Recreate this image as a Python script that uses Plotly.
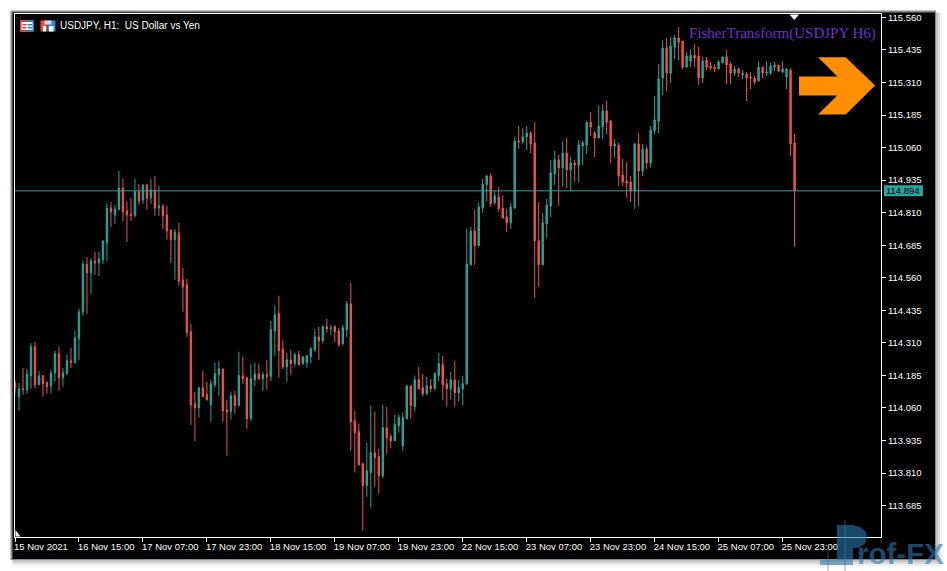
import plotly.graph_objects as go

high = [
114.168,114.156,114.213,114.210,114.309,114.314,114.203,114.184,114.164,114.207,
114.280,114.295,114.213,114.264,114.291,114.356,114.441,114.627,114.640,114.636,
114.659,114.659,114.702,114.847,114.851,114.840,114.970,114.940,114.851,114.867,
114.940,114.920,114.917,114.917,114.940,114.951,114.913,114.844,114.836,114.744,
114.748,114.771,114.598,114.556,114.383,114.122,114.138,114.203,114.161,114.168,
114.234,114.241,114.210,114.092,114.122,114.126,114.276,114.257,114.180,114.230,
114.234,114.230,114.199,114.245,114.395,114.452,114.491,114.322,114.272,114.283,
114.272,114.280,114.260,114.264,114.295,114.364,114.372,114.379,114.402,114.379,
114.379,114.368,114.379,114.471,114.541,114.049,114.000,113.850,113.927,114.069,
114.046,113.904,114.072,114.065,113.961,114.034,114.034,114.042,114.145,114.145,
114.184,114.218,114.191,114.180,114.172,114.199,114.272,114.260,114.172,114.199,
114.241,114.168,114.184,114.748,114.755,114.821,114.848,114.940,114.955,114.963,
114.894,114.909,114.874,114.825,114.848,115.101,115.143,115.135,115.143,115.124,
115.158,114.851,114.809,114.863,115.013,115.047,115.032,115.085,115.097,115.024,
115.013,115.089,115.085,115.158,115.197,115.124,115.220,115.227,115.239,115.166,
115.093,115.078,115.016,115.005,114.951,115.078,115.116,115.074,115.066,115.143,
115.258,115.381,115.473,115.481,115.484,115.492,115.523,115.469,115.427,115.438,
115.458,115.446,115.408,115.408,115.389,115.381,115.396,115.408,115.435,115.389,
115.373,115.366,115.358,115.350,115.350,115.335,115.392,115.369,115.392,115.385,
115.389,115.377,115.392,115.366,115.366,115.112]

low = [
114.111,114.049,114.111,114.115,114.134,114.134,114.149,114.104,114.116,114.115,
114.161,114.126,114.141,114.191,114.214,114.234,114.245,114.414,114.422,114.498,
114.571,114.567,114.613,114.625,114.755,114.767,114.821,114.778,114.698,114.778,
114.794,114.840,114.844,114.821,114.844,114.798,114.798,114.748,114.706,114.617,
114.552,114.529,114.429,114.333,113.996,113.934,114.023,114.103,114.088,114.007,
114.138,114.107,114.007,113.877,114.015,114.038,114.069,114.153,113.980,114.011,
114.145,114.168,114.126,114.130,114.164,114.260,114.176,114.210,114.161,114.188,
114.218,114.226,114.226,114.214,114.230,114.276,114.245,114.307,114.349,114.341,
114.314,114.295,114.299,114.333,113.896,113.812,113.838,113.589,113.719,113.677,
113.758,113.731,113.789,113.884,113.907,113.934,113.965,113.896,114.019,114.019,
114.046,114.130,114.103,114.111,114.122,114.130,114.161,114.092,114.065,114.092,
114.065,114.084,114.069,114.149,114.606,114.610,114.683,114.809,114.855,114.832,
114.840,114.813,114.786,114.736,114.748,114.825,115.055,115.074,115.051,115.039,
114.483,114.525,114.610,114.713,114.794,114.917,114.836,114.909,114.905,114.897,
114.928,114.928,114.993,115.036,115.105,115.024,115.097,115.093,115.112,115.001,
115.020,114.913,114.913,114.867,114.851,114.825,114.836,114.951,114.978,114.984,
115.112,115.116,115.262,115.277,115.308,115.400,115.396,115.362,115.369,115.369,
115.369,115.300,115.308,115.358,115.358,115.350,115.362,115.385,115.304,115.304,
115.335,115.331,115.323,115.239,115.285,115.304,115.316,115.327,115.335,115.339,
115.354,115.350,115.346,115.285,115.028,114.680]

open_ = [
114.156,114.103,114.134,114.130,114.184,114.295,114.149,114.184,114.157,114.145,
114.195,114.268,114.176,114.191,114.241,114.234,114.326,114.429,114.613,114.579,
114.625,114.617,114.629,114.694,114.828,114.801,114.821,114.905,114.817,114.805,
114.798,114.890,114.859,114.917,114.867,114.897,114.828,114.836,114.801,114.744,
114.706,114.732,114.552,114.533,114.353,114.076,114.061,114.138,114.111,114.072,
114.149,114.188,114.210,114.053,114.046,114.107,114.069,114.184,114.176,114.019,
114.168,114.191,114.172,114.188,114.180,114.356,114.422,114.287,114.218,114.245,
114.230,114.264,114.230,114.234,114.257,114.283,114.333,114.318,114.372,114.364,
114.372,114.356,114.307,114.360,114.460,114.011,113.969,113.846,113.762,113.812,
113.888,113.873,113.800,113.984,113.950,113.934,113.992,113.915,114.019,114.145,
114.065,114.168,114.138,114.115,114.145,114.134,114.184,114.226,114.153,114.134,
114.168,114.118,114.134,114.153,114.610,114.740,114.683,114.828,114.917,114.951,
114.848,114.870,114.828,114.794,114.771,114.828,115.085,115.082,115.101,115.116,
115.078,114.702,114.610,114.767,114.836,114.959,115.013,114.982,115.039,114.974,
115.001,114.993,115.066,115.070,115.158,115.116,115.097,115.139,115.201,115.162,
115.066,115.070,114.955,114.932,114.928,114.894,115.074,114.970,115.055,115.001,
115.124,115.162,115.327,115.442,115.346,115.446,115.481,115.469,115.369,115.392,
115.415,115.412,115.327,115.396,115.373,115.369,115.362,115.385,115.408,115.381,
115.346,115.362,115.339,115.342,115.331,115.327,115.316,115.369,115.346,115.346,
115.369,115.377,115.350,115.331,115.358,115.078]

close = [
114.136,114.134,114.130,114.191,114.295,114.149,114.184,114.153,114.141,114.195,
114.268,114.176,114.195,114.241,114.234,114.329,114.429,114.613,114.579,114.625,
114.617,114.633,114.702,114.828,114.813,114.824,114.905,114.813,114.801,114.798,
114.890,114.855,114.917,114.867,114.897,114.828,114.836,114.798,114.740,114.706,
114.736,114.548,114.525,114.349,114.072,114.061,114.138,114.103,114.092,114.153,
114.191,114.210,114.049,114.046,114.107,114.069,114.184,114.172,114.019,114.172,
114.191,114.172,114.188,114.180,114.360,114.418,114.280,114.218,114.245,114.230,
114.264,114.226,114.257,114.260,114.287,114.333,114.318,114.372,114.364,114.368,
114.353,114.303,114.368,114.460,114.007,113.965,113.842,113.762,113.819,113.888,
113.869,113.800,113.984,113.946,113.934,113.996,114.023,114.023,114.145,114.069,
114.168,114.134,114.115,114.145,114.134,114.191,114.230,114.149,114.134,114.168,
114.118,114.138,114.153,114.613,114.740,114.683,114.832,114.920,114.951,114.844,
114.874,114.825,114.790,114.771,114.832,115.085,115.082,115.101,115.116,115.074,
114.702,114.610,114.771,114.840,114.963,115.013,114.982,115.039,114.974,115.001,
114.993,115.070,115.078,115.158,115.139,115.097,115.143,115.201,115.158,115.066,
115.074,114.951,114.928,114.924,114.894,115.074,114.970,115.055,115.001,115.128,
115.166,115.323,115.442,115.346,115.450,115.481,115.465,115.369,115.412,115.415,
115.404,115.327,115.392,115.369,115.366,115.362,115.389,115.408,115.377,115.346,
115.362,115.346,115.346,115.327,115.327,115.312,115.369,115.346,115.350,115.373,
115.377,115.354,115.362,115.362,115.074,114.894]

bar_index = list(range(len(close)))
x_tick_bars = [0, 16, 32, 48, 64, 80, 96, 112, 128, 144, 160, 176, 192]
x_tick_labels = ["15 Nov 2021", "16 Nov 15:00", "17 Nov 07:00", "17 Nov 23:00", "18 Nov 15:00",
                 "19 Nov 07:00", "19 Nov 23:00", "22 Nov 15:00", "23 Nov 07:00", "23 Nov 23:00",
                 "24 Nov 15:00", "25 Nov 07:00", "25 Nov 23:00"]
y_tick_values = [113.685, 113.810, 113.935, 114.060, 114.185, 114.310, 114.435, 114.560,
                 114.685, 114.810, 114.935, 115.060, 115.185, 115.310, 115.435, 115.560]
last_price = 114.894
title_text = "USDJPY, H1:  US Dollar vs Yen"
indicator_text = "FisherTransform(USDJPY H6)"

W, H = 947, 571
L, R, T, B = 14.5, 881.0, 13.5, 537.0
GREEN, RED = "#26A69A", "#EF5350"
FONT = "Liberation Sans"


def X(px):
    return (px - L) / (R - L)


def Y(py):
    return (B - py) / (B - T)


def rect(x0, y0, x1, y1, color, layer="above", opacity=1):
    return dict(type="rect", xref="paper", yref="paper", x0=X(x0), x1=X(x1), y0=Y(y0), y1=Y(y1),
                fillcolor=color, line=dict(width=0), layer=layer, opacity=opacity)


def poly(points, color, layer="above", opacity=1):
    d = "M " + " L ".join(f"{X(a):.5f},{Y(b):.5f}" for a, b in points) + " Z"
    return dict(type="path", xref="paper", yref="paper", path=d, fillcolor=color,
                line=dict(width=0), layer=layer, opacity=opacity)


fig = go.Figure(go.Candlestick(
    x=bar_index, open=open_, high=high, low=low, close=close,
    increasing=dict(line=dict(color=GREEN, width=1), fillcolor=GREEN),
    decreasing=dict(line=dict(color=RED, width=1), fillcolor=RED),
    whiskerwidth=0, hoverinfo="skip", showlegend=False,
))

shapes = []
# window shadow and frame
for k, c in enumerate(["#f0f0f0", "#dcdcdc", "#c4c4c4", "#a8a8a8"]):
    shapes.append(rect(12, 12, 942 - 2 * k, 566 - 2 * k, c, "below"))
shapes.append(rect(10, 10, 936, 560, "#8a8a8a", "below"))
shapes.append(rect(12, 12, 935, 559, "#000000", "below"))
# last price line and tag
shapes.append(dict(type="line", xref="paper", yref="y", x0=0, x1=1, y0=last_price, y1=last_price,
                   line=dict(color=GREEN, width=1)))
shapes.append(rect(884, 185, 923, 196, GREEN))
# arrow
shapes.append(poly([(799, 76), (837.3, 76), (818, 56.7), (845.7, 56.7), (875, 85), (845.7, 114),
                    (818, 114), (837.3, 95), (799, 95)], "#FF8F00"))
# shift marker triangles
shapes.append(poly([(789.5, 14), (799, 14), (794.2, 19.5)], "#FFFFFF"))
shapes.append(poly([(15, 530), (15, 536.5), (20, 536.5)], "#FFFFFF"))
# toolbar icons
shapes += [
    rect(19.5, 20, 33.5, 31, "#FFFFFF"),
    rect(19.5, 20, 26.5, 21.5, "#E8392B"), rect(19.5, 29.5, 26.5, 31, "#E8392B"),
    rect(19.5, 20, 21, 31, "#E8392B"), rect(22, 23.5, 26, 25, "#E8392B"), rect(22, 26.5, 26, 28, "#E8392B"),
    rect(26.5, 20, 33.5, 21.5, "#1E78C8"), rect(26.5, 29.5, 33.5, 31, "#1E78C8"),
    rect(32, 20, 33.5, 31, "#1E78C8"), rect(27, 23.5, 31.5, 25, "#1E78C8"), rect(27, 26.5, 31.5, 28, "#1E78C8"),
    rect(40, 20, 47, 31, "#EE4B35"), rect(47, 20, 55, 31, "#2E8BD8"),
    rect(44, 20, 51, 24, "#D9D9D9"), rect(42.5, 25.5, 45.5, 31, "#FFFFFF"), rect(48.5, 25.5, 53, 31, "#FFFFFF"),
]
# watermark logo
WM = "#2B79AE"
shapes += [
    rect(844.5, 520, 845.5, 571, WM, opacity=0.6),
    rect(827.5, 548, 828.5, 571, WM, opacity=0.6),
    rect(820, 560, 837, 565, WM, opacity=0.6),
    rect(837, 525, 853, 565, WM, opacity=0.6),
    poly([(853, 525), (860, 527), (866, 532), (867, 538), (865, 544), (858, 548), (853, 548)], WM, opacity=0.6),
]

annotations = [
    dict(xref="paper", yref="paper", x=X(58), y=Y(25), xanchor="left", yanchor="middle", showarrow=False,
         text=title_text, font=dict(family=FONT, size=10, color="#FFFFFF")),
    dict(xref="paper", yref="paper", x=X(877.5), y=Y(33), xanchor="right", yanchor="middle", showarrow=False,
         text=indicator_text, font=dict(family="Liberation Serif", size=15, color="#7030D0")),
    dict(xref="paper", yref="paper", x=X(903.5), y=Y(190.5), xanchor="center", yanchor="middle", showarrow=False,
         text=f"{last_price:.3f}", font=dict(family=FONT, size=9.5, color="#000000")),
    dict(xref="paper", yref="paper", x=X(855), y=Y(554), xanchor="left", yanchor="middle", showarrow=False,
         text="<b>rof-FX</b>", opacity=0.6, font=dict(family=FONT, size=29.5, color=WM)),
]

fig.update_layout(
    width=W, height=H, autosize=False,
    margin=dict(l=L, r=W - R, t=T, b=H - B, pad=0, autoexpand=False),
    paper_bgcolor="#FFFFFF", plot_bgcolor="#000000",
    boxgap=0.5, showlegend=False, hovermode=False,
    shapes=shapes, annotations=annotations,
    xaxis=dict(range=[0, (R - L) / 4], rangeslider=dict(visible=False), showgrid=False, zeroline=False,
               tickmode="array", tickvals=x_tick_bars, ticktext=x_tick_labels, tickangle=0, automargin=False,
               ticks="outside", ticklen=4, tickcolor="#FFFFFF", tickwidth=1,
               ticklabelposition="outside right", ticklabelshift=-2, ticklabelstandoff=1,
               tickfont=dict(family=FONT, size=9.5, color="#FFFFFF"),
               showline=True, linecolor="#FFFFFF", linewidth=1, mirror=True),
    yaxis=dict(range=[113.5645, 115.5731], side="right", showgrid=False, zeroline=False, automargin=False,
               tickmode="array", tickvals=y_tick_values, ticktext=[f"{v:.3f}" for v in y_tick_values],
               ticks="outside", ticklen=4, tickcolor="#FFFFFF", tickwidth=1,
               tickfont=dict(family=FONT, size=9.5, color="#FFFFFF"),
               showline=True, linecolor="#FFFFFF", linewidth=1, mirror=True),
)

fig.write_html("out.html", post_script="document.body.style.margin='0';document.documentElement.style.overflow='hidden';",
               config=dict(displayModeBar=False))
